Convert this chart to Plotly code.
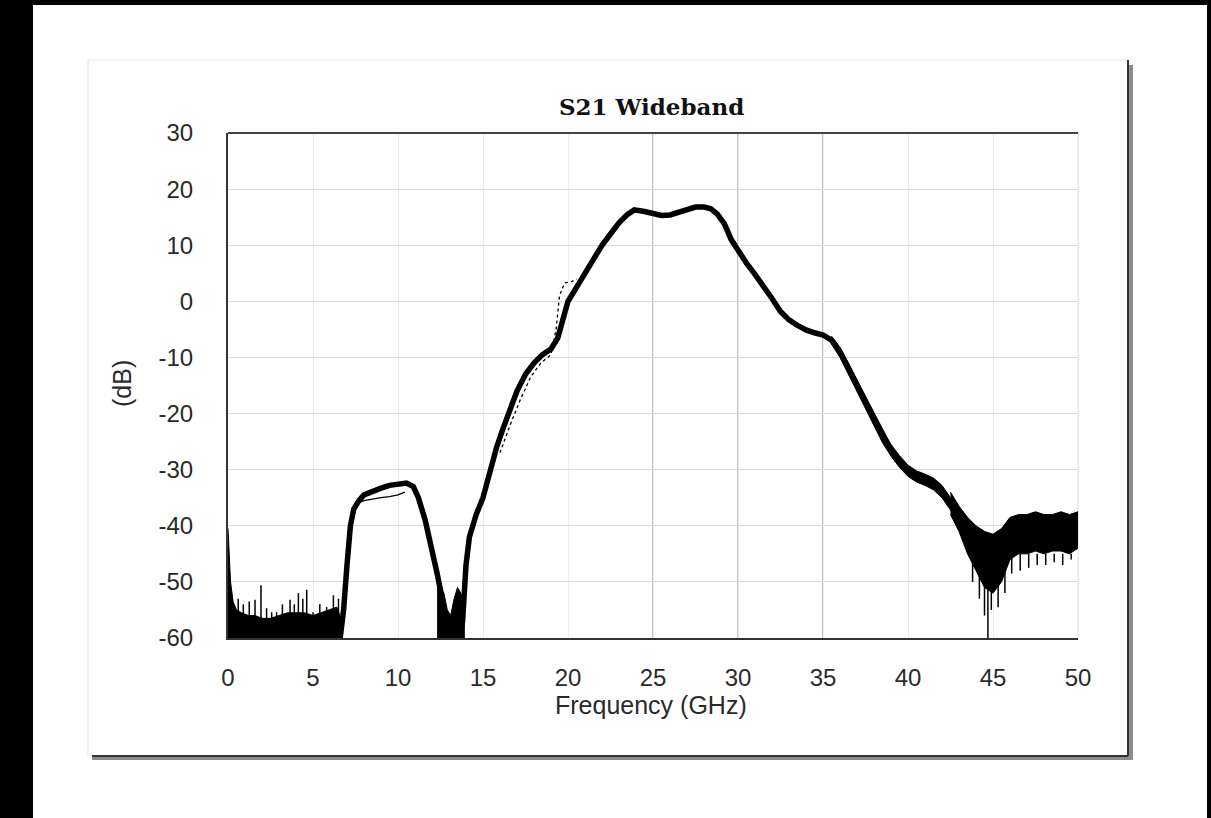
import plotly.graph_objects as go

# ---------------- data ----------------
# main (band-centre) S21 trace, GHz / dB
main_freq = [6.6, 6.8, 7.0, 7.2, 7.4, 7.7, 8.0, 8.5, 9.0, 9.5, 10.0, 10.5, 10.9, 11.2, 11.6,
             12.0, 12.3, 12.6, 12.8, 13.0, 13.6, 13.8, 13.9, 14.0, 14.2, 14.6, 15.0, 15.4,
             15.8, 16.2, 16.5, 17.0, 17.5, 18.0, 18.5, 19.0, 19.4, 19.7, 20.0, 20.5, 21.0,
             21.5, 22.0, 22.5, 23.0, 23.5, 23.9, 24.5, 25.0, 25.5, 26.0, 26.5, 27.0, 27.5,
             28.0, 28.4, 28.8, 29.2, 29.6, 30.0, 30.5, 31.0, 31.5, 32.0, 32.5, 33.0, 33.5,
             34.0, 34.5, 35.0, 35.5, 36.0, 36.5, 37.0, 37.5, 38.0, 38.5, 39.0, 39.5, 40.0,
             40.5, 41.0, 41.5, 42.0, 42.5, 43.0, 43.5]
main_db = [-60, -55, -47, -40, -37, -35.5, -34.5, -33.8, -33.3, -32.8, -32.5, -32.4, -33,
           -35, -39, -44, -48.5, -53, -57, -60, -60, -57, -52, -47, -42, -38, -35, -30.5,
           -26, -22.5, -20, -16, -13, -11, -9.5, -8.5, -6.5, -3, 0, 2.5, 5, 7.5, 10, 12,
           14, 15.5, 16.3, 16, 15.6, 15.3, 15.4, 15.9, 16.4, 16.8, 16.8, 16.5, 15.5, 13.8,
           11, 9, 6.8, 4.8, 2.8, 0.5, -1.8, -3.3, -4.3, -5.1, -5.6, -6, -6.9, -9, -12,
           -15, -18, -21, -24, -26.5, -28.5, -30.2, -31.2, -31.8, -32.5, -33.8, -36, -39,
           -41.5]

# spread of the overlaid traces on the upper skirt (35.5 - 43 GHz)
skirt_freq = [35.5, 36.0, 36.5, 37.0, 37.5, 38.0, 38.5, 39.0, 39.5, 40.0, 40.5, 41.0,
              41.5, 42.0, 42.5, 43.0]
skirt_top = [-6.2, -8.2, -11, -14, -17, -20, -23, -25.5, -27.5, -29.2, -30.2, -30.8,
             -31.5, -32.8, -35, -38]
skirt_bottom = [-7.6, -10, -13.2, -16.2, -19.2, -22.2, -25.2, -27.6, -29.6, -31.2,
                -32.2, -32.8, -33.6, -35, -37.2, -40.5]

# thinner companion traces that separate from the main band
thin_a_freq = [7.3, 7.6, 8.0, 8.5, 9.0, 9.5, 10.0, 10.4]
thin_a_db = [-37.5, -36, -35.5, -35.2, -35, -34.8, -34.5, -34]
thin_b_freq = [16.0, 16.6, 17.2, 17.8, 18.4, 19.0, 19.3, 19.5, 19.8, 20.2, 20.5]
thin_b_db = [-27, -22, -17.5, -13.5, -11, -9.5, -5, 1, 3.3, 3.5, 4]

# low-frequency noise floor (0 - 6.7 GHz)
floor_freq = [0.0, 0.05, 0.15, 0.3, 0.5, 0.8, 1.2, 1.6, 2.0, 2.5, 3.0, 3.5, 4.0, 4.5,
              5.0, 5.5, 6.0, 6.4, 6.7]
floor_top = [-40.5, -44, -50, -53.5, -55, -55.5, -56, -56, -56.5, -56.5, -56, -55.5,
             -55.5, -55.5, -56, -55.5, -55, -54.5, -57]
floor_bottom = [-60, -60, -60, -60, -60, -60, -60, -60, -60, -60, -60, -60, -60, -60,
                -60, -60, -60, -60, -60]
floor_spike_freq = [0.6, 0.9, 1.25, 1.59, 1.94, 2.27, 2.57, 2.86, 3.2, 3.65, 3.9, 4.14,
                    4.4, 4.63, 5.0, 5.4, 5.8, 6.2, 6.5]
floor_spike_db = [-53, -54, -53.5, -53.2, -50.6, -54.7, -55.4, -55.4, -54, -53.2, -54,
                  -52, -53, -51.4, -55.4, -54, -54.5, -52.4, -53]

# notch noise (12.3 - 13.9 GHz)
notch_freq = [12.3, 12.5, 12.7, 12.9, 13.1, 13.3, 13.5, 13.7, 13.9]
notch_top = [-50, -51, -52, -55, -56, -53, -51, -52, -56]
notch_bottom = [-60, -60, -60, -60, -60, -60, -60, -60, -60]

# high-frequency noise band (42.5 - 50 GHz)
hf_freq = [42.5, 43.0, 43.5, 44.0, 44.5, 45.0, 45.5, 46.0, 46.5, 47.0, 47.5, 48.0,
           48.5, 49.0, 49.5, 50.0]
hf_top = [-34, -36.5, -38.5, -40, -41, -41.5, -40.5, -38.5, -38, -38, -37.5, -38, -38,
          -37.5, -38, -37.5]
hf_bottom = [-38, -41, -45, -48, -51, -52, -50, -46, -45, -45, -44.5, -45, -44.5, -44.5,
             -45, -44]
hf_spike_freq = [43.8, 44.2, 44.5, 44.7, 44.9, 45.3, 45.7, 46.1, 46.6, 47.1, 47.6, 48.1,
                 48.6, 49.1, 49.6]
hf_spike_db = [-50, -53, -56, -60, -55, -54.5, -52, -48.5, -48, -47.5, -47, -47, -46.5,
               -47, -46]
hf_spike_base = -45

x_ticks = [0, 5, 10, 15, 20, 25, 30, 35, 40, 45, 50]
y_ticks = [-60, -50, -40, -30, -20, -10, 0, 10, 20, 30]
strong_grid_freq = [25, 30, 35]

# ---------------- layout geometry (pixels) ----------------
W, H = 1211, 818
PL, PR, PT, PB = 228, 1078, 133, 638


def px(xp):
    return (xp - PL) / (PR - PL)


def py(yp):
    return (PB - yp) / (PB - PT)


INK = "#000000"
fig = go.Figure()


def band(xs, top, bottom):
    fig.add_trace(go.Scatter(x=xs + xs[::-1], y=top + bottom[::-1], fill="toself",
                             fillcolor=INK, line=dict(color=INK, width=1),
                             mode="lines", hoverinfo="skip", showlegend=False))


def spikes(xs, ys, base):
    sx, sy = [], []
    for f, v in zip(xs, ys):
        sx += [f, f, None]
        sy += [base, v, None]
    fig.add_trace(go.Scatter(x=sx, y=sy, mode="lines", line=dict(color=INK, width=1.5),
                             hoverinfo="skip", showlegend=False))


band(floor_freq, floor_top, floor_bottom)
spikes(floor_spike_freq, floor_spike_db, -60)
band(notch_freq, notch_top, notch_bottom)
band(skirt_freq, skirt_top, skirt_bottom)
band(hf_freq, hf_top, hf_bottom)
spikes(hf_spike_freq, hf_spike_db, hf_spike_base)

fig.add_trace(go.Scatter(x=main_freq, y=main_db, mode="lines",
                         line=dict(color=INK, width=5.5), name="S21", showlegend=False))
fig.add_trace(go.Scatter(x=thin_a_freq, y=thin_a_db, mode="lines",
                         line=dict(color=INK, width=1.3), showlegend=False))
fig.add_trace(go.Scatter(x=thin_b_freq, y=thin_b_db, mode="lines",
                         line=dict(color=INK, width=1.3, dash="dot"), showlegend=False))

shapes = [
    # white page over the black frame
    dict(type="rect", xref="paper", yref="paper", x0=px(33), x1=px(1207), y0=py(5),
         y1=py(830), fillcolor="white", line=dict(width=0), layer="below"),
    # panel shadow
    dict(type="rect", xref="paper", yref="paper", x0=px(92), x1=px(1133), y0=py(65),
         y1=py(760), fillcolor="#8c8c8c", line=dict(width=0), layer="below"),
    # panel
    dict(type="rect", xref="paper", yref="paper", x0=px(88), x1=px(1128), y0=py(60),
         y1=py(756), fillcolor="white", line=dict(color="#e2e2e2", width=1), layer="below"),
    dict(type="line", xref="paper", yref="paper", x0=px(1128), x1=px(1128), y0=py(60),
         y1=py(756), line=dict(color="#333333", width=2), layer="below"),
    dict(type="line", xref="paper", yref="paper", x0=px(92), x1=px(1128), y0=py(756),
         y1=py(756), line=dict(color="#333333", width=2), layer="below"),
    # top frame line and light right edge of plot area
    dict(type="line", xref="paper", yref="paper", x0=0, x1=1, y0=1, y1=1,
         line=dict(color="#444444", width=2)),
    dict(type="line", xref="paper", yref="paper", x0=1, x1=1, y0=0, y1=1,
         line=dict(color="#dddddd", width=1), layer="below"),
]
for f in strong_grid_freq:
    shapes.append(dict(type="line", xref="x", yref="paper", x0=f, x1=f, y0=0, y1=1,
                       line=dict(color="#8a8a8a", width=1), layer="below"))

FONT = "Liberation Sans, Arial, sans-serif"
fig.update_layout(
    width=W, height=H, autosize=False,
    margin=dict(l=PL, r=W - PR, t=PT, b=H - PB, pad=0),
    paper_bgcolor="black", plot_bgcolor="white",
    shapes=shapes,
    font=dict(family=FONT, size=24, color="#222222"),
    xaxis=dict(range=[0, 50], tickmode="array", tickvals=x_ticks,
               ticktext=[str(v) for v in x_ticks], showgrid=True, gridcolor="#ececec",
               gridwidth=1, zeroline=False, showline=True, linecolor="#333333",
               linewidth=2, ticks="", ticklabelstandoff=17,
               tickfont=dict(family=FONT, size=24, color="#2a2a2a")),
    yaxis=dict(range=[-60, 30], tickmode="array", tickvals=y_ticks,
               ticktext=[str(v) for v in y_ticks], showgrid=True, gridcolor="#dadada",
               gridwidth=1, zeroline=False, showline=True, linecolor="#333333",
               linewidth=2, ticks="", ticklabelstandoff=28,
               tickfont=dict(family=FONT, size=24, color="#2a2a2a")),
    annotations=[
        dict(text="<b>S21 Wideband</b>", xref="paper", yref="paper", x=px(651), y=py(107),
             xanchor="center", yanchor="middle", showarrow=False,
             font=dict(family="DejaVu Serif, serif", size=23, color="#111111")),
        dict(text="Frequency (GHz)", xref="paper", yref="paper", x=px(651), y=py(705),
             xanchor="center", yanchor="middle", showarrow=False,
             font=dict(family=FONT, size=25, color="#2a2a2a")),
        dict(text="(dB)", xref="paper", yref="paper", x=px(122), y=py(384),
             xanchor="center", yanchor="middle", showarrow=False, textangle=-90,
             font=dict(family=FONT, size=25, color="#2a2a2a")),
    ],
)

fig.write_html("out.html", config={"displayModeBar": False},
               post_script="document.body.style.margin='0px';"
                           "document.body.style.overflow='hidden';")
